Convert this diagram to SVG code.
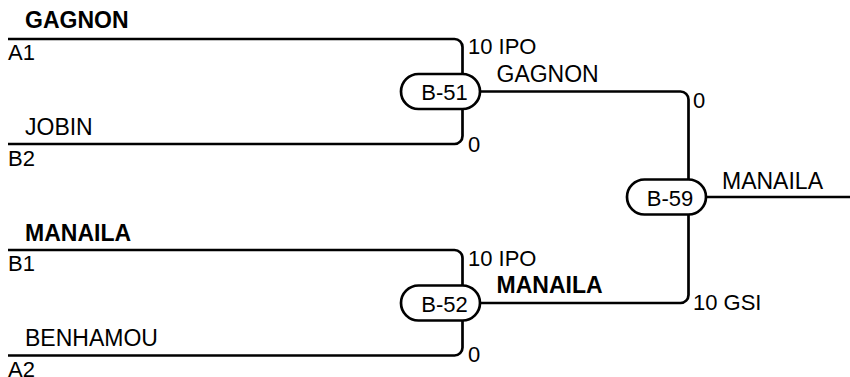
<svg xmlns="http://www.w3.org/2000/svg" width="850" height="377" viewBox="0 0 850 377">
<style>
.ln{fill:none;stroke:#000;stroke-width:2.7}
.pill{fill:#fff;stroke:#000;stroke-width:2.7}
text{font-family:"Liberation Sans",Arial,sans-serif;font-size:22px;fill:#000}
.nm{font-size:23px}
.b{font-weight:bold}
.c{text-anchor:middle}
</style>
<rect width="850" height="377" fill="#fff"/>
<g id="connectors">
<path class="ln" d="M8,39 H454.5 A8,8 0 0 1 462.5,47 V136 A8,8 0 0 1 454.5,144 H8"/>
<path class="ln" d="M8,250 H454.5 A8,8 0 0 1 462.5,258 V347.5 A8,8 0 0 1 454.5,355.5 H8"/>
<path class="ln" d="M480,91.5 H680.5 A8,8 0 0 1 688.5,99.5 V295 A8,8 0 0 1 680.5,303 H480"/>
<path class="ln" d="M706,197 H850"/>
</g>
<g id="labels">
<text class="nm b" x="25" y="28">GAGNON</text>
<text x="8" y="60">A1</text>
<text class="nm" x="25" y="135">JOBIN</text>
<text x="8" y="166">B2</text>
<text class="nm b" x="25" y="240.5">MANAILA</text>
<text x="8" y="271">B1</text>
<text class="nm" x="25" y="346">BENHAMOU</text>
<text x="8" y="377">A2</text>
<text x="468" y="54">10 IPO</text>
<text x="468" y="151.5">0</text>
<text class="nm" x="496.5" y="81.5">GAGNON</text>
<text x="468" y="266">10 IPO</text>
<text x="468" y="362">0</text>
<text class="nm b" x="496.5" y="292.5">MANAILA</text>
<text x="693" y="108">0</text>
<text x="693" y="310">10 GSI</text>
<text class="nm" x="722" y="189">MANAILA</text>
</g>
<g id="B-51">
<rect class="pill" x="401" y="74" width="79" height="35" rx="17.5"/>
<text class="c" x="444.5" y="100">B-51</text>
</g>
<g id="B-52">
<rect class="pill" x="401" y="285.5" width="79" height="35" rx="17.5"/>
<text class="c" x="444.5" y="311.5">B-52</text>
</g>
<g id="B-59">
<rect class="pill" x="627" y="179.5" width="79" height="35" rx="17.5"/>
<text class="c" x="670" y="205.5">B-59</text>
</g>
</svg>
